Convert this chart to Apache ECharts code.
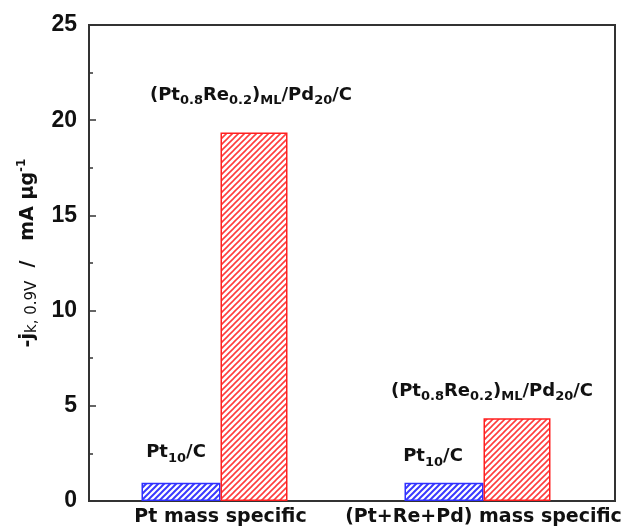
<!DOCTYPE html>
<html>
<head>
<meta charset="utf-8">
<script src="https://cdn.jsdelivr.net/npm/echarts@6/dist/echarts.min.js"></script>
<style>
  html, body { margin: 0; padding: 0; background: #fff; }
  #chart { width: 623px; height: 527px; }
</style>
</head>
<body>
<div id="chart"></div>
<script>
// categories and values (mA/ug)
const categories = ['Pt mass specific', '(Pt+Re+Pd) mass specific']
const ptC = [0.96, 0.96]
const ptReMlPd = [19.35, 4.35]
const yTicks = { min: 0, max: 25, interval: 5 }

const FONT = 'DejaVu Sans'

// diagonal hatch made as a canvas pattern
function hatch(color, size, width) {
  const c = document.createElement('canvas')
  c.width = size
  c.height = size
  const ctx = c.getContext('2d')
  ctx.fillStyle = '#fff'
  ctx.fillRect(0, 0, size, size)
  ctx.strokeStyle = color
  ctx.lineWidth = width
  ctx.beginPath()
  ctx.moveTo(-1, size + 1)
  ctx.lineTo(size + 1, -1)
  ctx.moveTo(-1, 1)
  ctx.lineTo(1, -1)
  ctx.moveTo(size - 1, size + 1)
  ctx.lineTo(size + 1, size - 1)
  ctx.stroke()
  return { image: c, repeat: 'repeat' }
}

const labelRich = {
  m: { fontFamily: FONT, fontWeight: 'bold', fontSize: 18, lineHeight: 24, color: '#111' },
  s: { fontFamily: FONT, fontWeight: 'bold', fontSize: 13, lineHeight: 8, verticalAlign: 'bottom', color: '#111' }
}

const chart = echarts.init(document.getElementById('chart'))
chart.setOption({
  animation: false,
  grid: {
    left: 89,
    top: 25,
    right: 8,
    bottom: 26,
    show: true,
    borderColor: '#333',
    borderWidth: 2,
    containLabel: false,
    outerBoundsMode: 'none'
  },
  xAxis: {
    type: 'category',
    data: categories,
    axisLine: { show: true, lineStyle: { color: '#333', width: 2 } },
    axisTick: { show: false },
    axisLabel: {
      margin: 7,
      fontFamily: FONT,
      fontWeight: 'bold',
      fontSize: 19,
      color: '#111',
      interval: 0
    },
    splitLine: { show: false }
  },
  yAxis: {
    type: 'value',
    min: yTicks.min,
    max: yTicks.max,
    interval: yTicks.interval,
    name: '{m|-j}{s|k, 0.9V}{m|  /   mA μg}{p|-1}',
    nameLocation: 'middle',
    nameGap: 49,
    nameTextStyle: {
      padding: [0, 0, 0, 20],
      rich: {
        m: { fontFamily: FONT, fontWeight: 'bold', fontSize: 19, lineHeight: 24, color: '#111' },
        s: { fontFamily: FONT, fontWeight: 'normal', fontSize: 15, lineHeight: 10, verticalAlign: 'bottom', color: '#111' },
        p: { fontFamily: FONT, fontWeight: 'bold', fontSize: 12, lineHeight: 10, verticalAlign: 'top', color: '#111' }
      }
    },
    axisLine: { show: true, lineStyle: { color: '#333', width: 2 } },
    axisTick: { show: true, inside: true, length: 7, lineStyle: { color: '#333', width: 1.5 } },
    minorTick: { show: true, splitNumber: 2, length: 4, lineStyle: { color: '#333', width: 1.5 } },
    axisLabel: {
      margin: 12,
      fontFamily: 'Liberation Sans',
      fontWeight: 'bold',
      fontSize: 23,
      color: '#111'
    },
    splitLine: { show: false }
  },
  series: [
    {
      name: 'Pt10/C',
      type: 'bar',
      barWidth: 79,
      barGap: '0%',
      data: ptC.map((v, i) => ({
        value: v,
        label: { offset: i === 0 ? [-5, -13] : [-11, -9] }
      })),
      itemStyle: { color: hatch('#3a3aff', 6, 2), borderColor: '#3030ff', borderWidth: 1.5 },
      label: {
        show: true,
        position: 'top',
        formatter: '{m|Pt}{s|10}{m|/C}',
        rich: labelRich
      }
    },
    {
      name: '(Pt0.8Re0.2)ML/Pd20/C',
      type: 'bar',
      barWidth: 67,
      barGap: '0%',
      data: ptReMlPd.map((v, i) => ({
        value: v,
        label: { offset: i === 0 ? [-3, -20] : [-25, -10] }
      })),
      itemStyle: { color: hatch('#ff3c3c', 6, 1.6), borderColor: '#ff2020', borderWidth: 1.5 },
      label: {
        show: true,
        position: 'top',
        formatter: '{m|(Pt}{s|0.8}{m|Re}{s|0.2}{m|)}{s|ML}{m|/Pd}{s|20}{m|/C}',
        rich: labelRich
      }
    },
    {
      // empty spacer so the two bars meet at the category centre
      name: 'spacer',
      type: 'bar',
      barWidth: 12,
      barGap: '0%',
      data: ['-', '-'],
      silent: true
    }
  ]
})
</script>
</body>
</html>
